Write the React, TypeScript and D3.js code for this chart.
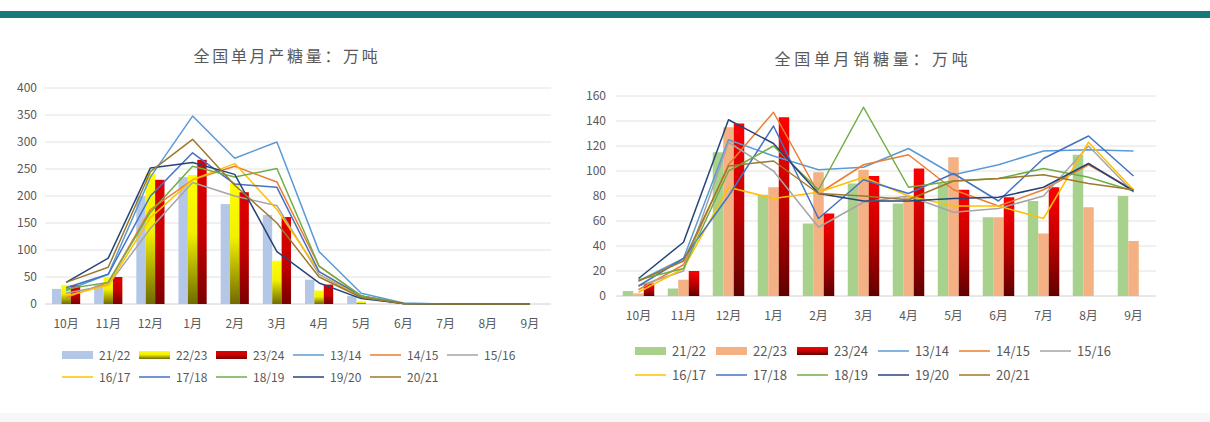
import React from "react";
import * as d3 from "d3";

const months = ["10月", "11月", "12月", "1月", "2月", "3月", "4月", "5月", "6月", "7月", "8月", "9月"];
const lineSeasons = ["13/14", "14/15", "15/16", "16/17", "17/18", "18/19", "19/20", "20/21"];
const barSeasons = ["21/22", "22/23", "23/24"];
const lineColors = ["#5b9bd5", "#ed7d31", "#a5a5a5", "#ffc000", "#4472c4", "#70ad47", "#264478", "#9c7a2c"];

// 全国单月产糖量 (万吨)
const prodBars: (number | null)[][] = [
  [28, 35, 200, 235, 185, 165, 45, 15, 1, 0, 0, 0],
  [35, 50, 242, 239, 224, 80, 25, 5, 0, 0, 0, 0],
  [35, 50, 230, 267, 207, 161, 36, null, null, null, null, null],
];
const prodLines: number[][] = [
  [25, 55, 235, 348, 270, 300, 97, 20, 2, 0, 0, 0],
  [12, 40, 175, 230, 255, 226, 70, 15, 1, 0, 0, 0],
  [20, 35, 140, 225, 200, 182, 55, 12, 1, 0, 0, 0],
  [15, 35, 160, 230, 260, 175, 60, 12, 1, 0, 0, 0],
  [30, 55, 200, 280, 222, 216, 60, 15, 1, 0, 0, 0],
  [28, 40, 170, 255, 235, 251, 70, 15, 1, 0, 0, 0],
  [40, 85, 252, 262, 240, 97, 39, 10, 1, 0, 0, 0],
  [40, 68, 245, 305, 220, 150, 50, 12, 1, 0, 0, 0],
];
const prodTicks = [0, 50, 100, 150, 200, 250, 300, 350, 400];

// 全国单月销糖量 (万吨)
const salesBars: (number | null)[][] = [
  [4, 6, 115, 81, 58, 90, 74, 90, 63, 76, 113, 80],
  [2, 13, 135, 87, 99, 101, 80, 111, 63, 50, 71, 44],
  [10, 20, 138, 143, 66, 96, 102, 85, 79, 87, null, null],
];
const salesLines: number[][] = [
  [12, 30, 125, 112, 101, 103, 118, 97, 105, 116, 117, 116],
  [5, 25, 105, 147, 82, 105, 113, 85, 72, 85, 105, 85],
  [8, 20, 123, 100, 55, 75, 80, 67, 70, 80, 120, 83],
  [3, 22, 87, 78, 83, 95, 80, 72, 72, 62, 123, 85],
  [8, 30, 80, 136, 62, 93, 82, 98, 76, 110, 128, 96],
  [13, 22, 100, 120, 85, 151, 87, 92, 94, 102, 95, 84],
  [14, 43, 141, 122, 82, 76, 76, 78, 79, 87, 106, 84],
  [12, 28, 104, 108, 82, 80, 77, 92, 94, 97, 90, 85],
];
const salesTicks = [0, 20, 40, 60, 80, 100, 120, 140, 160];

const FONT = "'Noto Sans CJK SC', 'Noto Sans', sans-serif";
const TXT = "#595959";

type ChartProps = {
  id: string;
  title: string;
  titleX: number;
  titleY: number;
  titleSpacing: number;
  x0: number;
  x1: number;
  y0: number;
  y1: number;
  max: number;
  ticks: number[];
  bars: (number | null)[][];
  lines: number[][];
  barFills: string[];
  barW: number;
  labelY: number;
  tickX: number;
  legendX: number;
  legendStep: number;
  legendY: number[];
  legendFont: number;
};

function Chart(p: ChartProps) {
  const x = d3.scaleBand<string>().domain(months).range([p.x0, p.x1]).padding(0);
  const y = d3.scaleLinear().domain([0, p.max]).range([p.y0, p.y1]);
  const cx = (m: string) => (x(m) as number) + x.bandwidth() / 2;
  const line = d3
    .line<number>()
    .x((_, i) => cx(months[i]))
    .y((v) => y(v));
  const legendItems = [
    ...barSeasons.map((s, i) => ({ name: s, kind: "bar", fill: p.barFills[i] })),
    ...lineSeasons.map((s, i) => ({ name: s, kind: "line", fill: lineColors[i] })),
  ];
  return (
    <g>
      <text
        x={p.titleX}
        y={p.titleY}
        textAnchor="middle"
        fontFamily={FONT}
        fontSize={16}
        letterSpacing={p.titleSpacing}
        fill={TXT}
      >
        {p.title}
      </text>
      {p.ticks.map((t) => (
        <g key={t}>
          <line x1={p.x0} x2={p.x1} y1={y(t)} y2={y(t)} stroke={t === 0 ? "#d0d0d0" : "#e2e2e2"} strokeWidth={1} />
          <text x={p.tickX} y={y(t) + 4} textAnchor="end" fontFamily={FONT} fontSize={12} fill={TXT}>
            {t}
          </text>
        </g>
      ))}
      {months.map((m) => (
        <text key={m} x={cx(m)} y={p.labelY} textAnchor="middle" fontFamily={FONT} fontSize={12} fill={TXT}>
          {m}
        </text>
      ))}
      {p.bars.map((series, si) =>
        series.map((v, mi) =>
          v === null ? null : (
            <rect
              key={`${si}-${mi}`}
              x={cx(months[mi]) - 1.5 * p.barW + si * p.barW}
              y={y(v)}
              width={p.barW}
              height={p.y0 - y(v)}
              fill={p.barFills[si]}
            />
          )
        )
      )}
      {p.lines.map((series, li) => (
        <path key={li} d={line(series) || ""} fill="none" stroke={lineColors[li]} strokeWidth={1.5} strokeLinejoin="round" />
      ))}
      {legendItems.map((it, i) => {
        const row = i < 6 ? 0 : 1;
        const col = i < 6 ? i : i - 6;
        const lx = p.legendX + col * p.legendStep;
        const ly = p.legendY[row];
        return (
          <g key={it.name}>
            {it.kind === "bar" ? (
              <rect x={lx} y={ly - 4} width={31} height={8} fill={it.fill} />
            ) : (
              <line x1={lx} x2={lx + 31} y1={ly} y2={ly} stroke={it.fill} strokeWidth={1.5} />
            )}
            <text x={lx + 37} y={ly + 4.5} fontFamily={FONT} fontSize={p.legendFont} fill={TXT}>
              {it.name}
            </text>
          </g>
        );
      })}
    </g>
  );
}

export default function App() {
  return (
    <div style={{ position: "absolute", left: 0, top: 0, width: 1210, height: 422, background: "#fff" }}>
      <svg width={1210} height={422} style={{ display: "block" }}>
        <defs>
          <linearGradient id="gYellow" x1="0" y1="0" x2="0" y2="1">
            <stop offset="0" stopColor="#ffff00" />
            <stop offset="0.45" stopColor="#f2f000" />
            <stop offset="1" stopColor="#6f6a00" />
          </linearGradient>
          <linearGradient id="gRedL" x1="0" y1="0" x2="0" y2="1">
            <stop offset="0" stopColor="#e00000" />
            <stop offset="0.5" stopColor="#c80000" />
            <stop offset="1" stopColor="#7a0000" />
          </linearGradient>
          <linearGradient id="gRedR" x1="0" y1="0" x2="0" y2="1">
            <stop offset="0" stopColor="#ff0000" />
            <stop offset="0.5" stopColor="#c00000" />
            <stop offset="1" stopColor="#600000" />
          </linearGradient>
        </defs>
        <rect x={0} y={0} width={1210} height={422} fill="#ffffff" />
        <rect x={0} y={11} width={1210} height={7} fill="#167a78" />
        <rect x={0} y={413} width={1210} height={9} fill="#f6f7f7" />
        <Chart
          id="prod"
          title="全国单月产糖量：万吨"
          titleX={287}
          titleY={62}
          titleSpacing={2.7}
          x0={45}
          x1={551}
          y0={304}
          y1={88}
          max={400}
          ticks={prodTicks}
          bars={prodBars}
          lines={prodLines}
          barFills={["#b4c7e7", "url(#gYellow)", "url(#gRedL)"]}
          barW={9.4}
          labelY={328}
          tickX={37}
          legendX={62}
          legendStep={77}
          legendY={[355, 377]}
          legendFont={12}
        />
        <Chart
          id="sales"
          title="全国单月销糖量：万吨"
          titleX={873}
          titleY={65}
          titleSpacing={3.7}
          x0={616}
          x1={1156}
          y0={296}
          y1={96}
          max={160}
          ticks={salesTicks}
          bars={salesBars}
          lines={salesLines}
          barFills={["#a9d18e", "#f4b183", "url(#gRedR)"]}
          barW={10.5}
          labelY={320}
          tickX={606}
          legendX={635}
          legendStep={81}
          legendY={[351, 375]}
          legendFont={13}
        />
      </svg>
    </div>
  );
}
